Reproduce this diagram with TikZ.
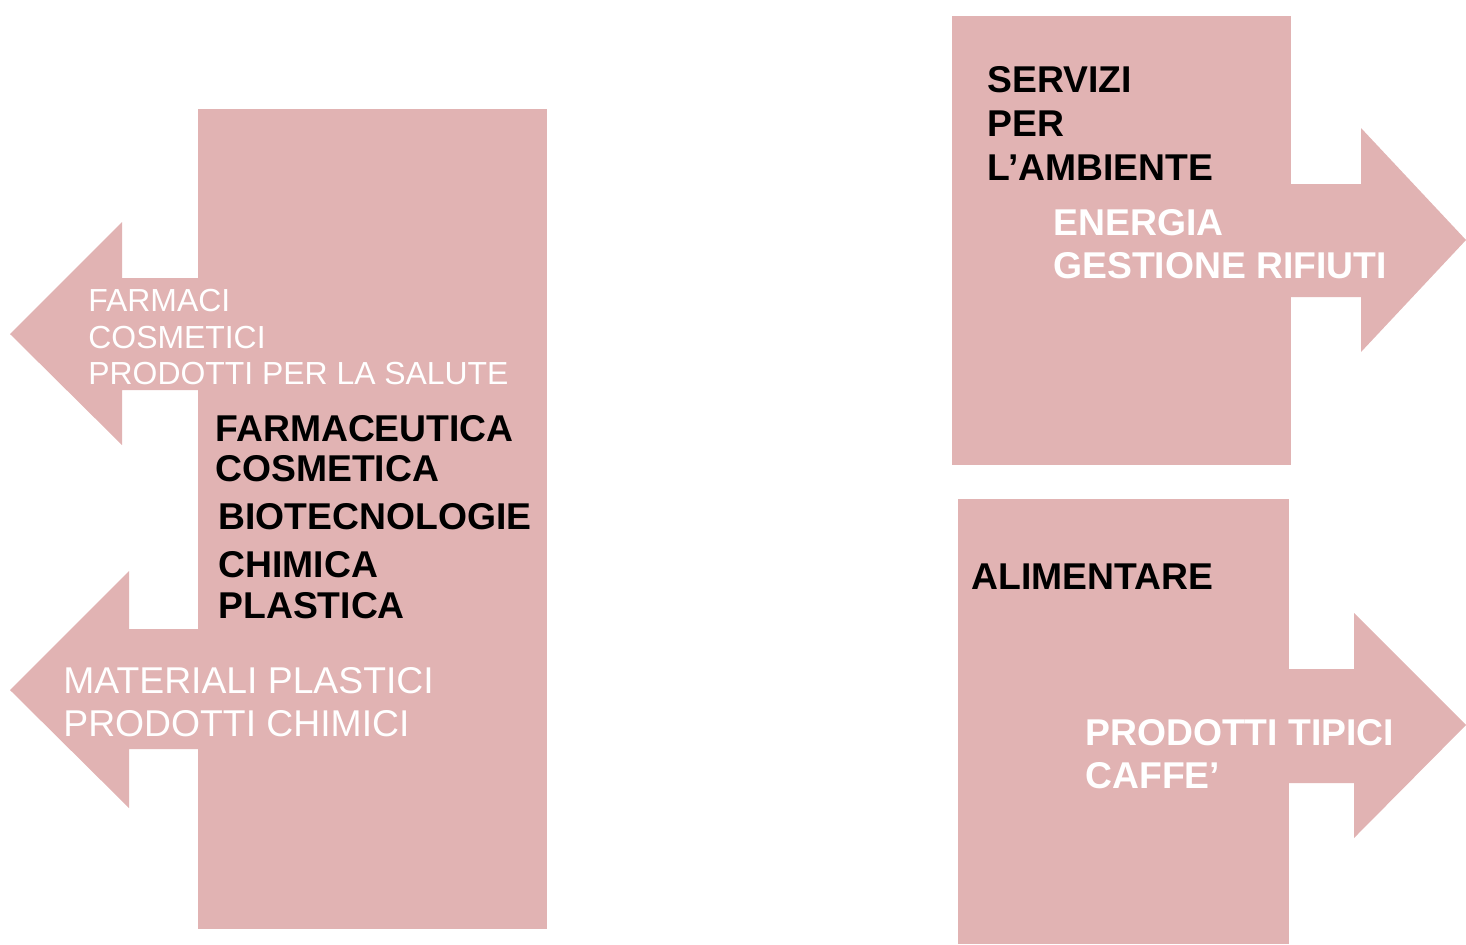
\documentclass[tikz,border=0pt]{standalone}
\usepackage{fontspec}
\setmainfont{Liberation Sans}
\usepackage{tikz}
\definecolor{rosa}{RGB}{225,179,179}

\begin{document}
\begin{tikzpicture}[x=0.5pt,y=-0.5pt,
    panel/.style={fill=rosa,draw=none},
    word/.style={anchor=base west,inner sep=0pt,font=\bfseries\fontsize{18.65}{22}\selectfont},
    whiteword/.style={word,text=white},
    thinword/.style={word,text=white,font=\fontsize{18.65}{22}\selectfont},
    smallword/.style={thinword,font=\fontsize{15.95}{19}\selectfont}]
        \useasboundingbox (0,0) rectangle (1466,944);

        % blocks
        \fill[panel] (198,109) rectangle (547,929);
        \fill[panel] (952,16) rectangle (1291,465);
        \fill[panel] (958,499) rectangle (1289,944);

        % arrows
        \fill[panel] (198,278) -- (122,278) -- (122,222) -- (10,334) -- (122,445) -- (122,390) -- (198,390) -- cycle;
        \fill[panel] (198,629) -- (129,629) -- (129,571) -- (10,690) -- (129,808) -- (129,749) -- (198,749) -- cycle;
        \fill[panel] (1291,184) -- (1361,184) -- (1361,128) -- (1466,240) -- (1361,352) -- (1361,297) -- (1291,297) -- cycle;
        \fill[panel] (1289,669) -- (1354,669) -- (1354,613) -- (1466,725) -- (1354,838) -- (1354,783) -- (1289,783) -- cycle;

        % left side
        \foreach \n/\y/\t in {farmaci/311/FARMACI,cosmetici/348/COSMETICI,salute/384/PRODOTTI PER LA SALUTE}{
            \node[smallword] (\n) at (88,\y) {\t};
        }
        \node[word] (farmaceutica) at (215,441) {FARMACEUTICA};
        \node[word] (cosmetica) at (215,481) {COSMETICA};
        \foreach \n/\y/\t in {biotec/529/BIOTECNOLOGIE,chimica/577/CHIMICA,plastica/618/PLASTICA}{
            \node[word] (\n) at (218,\y) {\t};
        }
        \node[thinword] (materiali) at (63,693) {MATERIALI PLASTICI};
        \node[thinword] (chimici) at (63,736) {PRODOTTI CHIMICI};

        % right side
        \foreach \n/\y/\t in {servizi/92/SERVIZI,per/136/PER,ambiente/180/L’AMBIENTE}{
            \node[word] (\n) at (987,\y) {\t};
        }
        \node[whiteword] (energia) at (1053,235) {ENERGIA};
        \node[whiteword] (rifiuti) at (1053,278) {GESTIONE RIFIUTI};
        \node[word] (alimentare) at (971,589) {ALIMENTARE};
        \node[whiteword] (tipici) at (1085,745) {PRODOTTI TIPICI};
        \node[whiteword] (caffe) at (1085,788) {CAFFE’};
    \end{tikzpicture}
\end{document}
